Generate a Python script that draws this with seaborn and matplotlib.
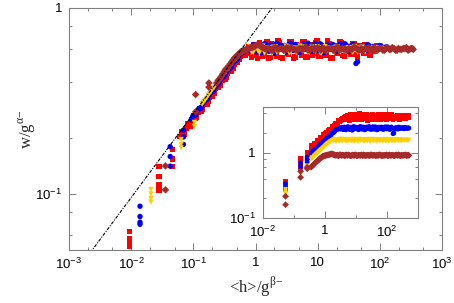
import numpy as np
import pandas as pd
import matplotlib
matplotlib.use("Agg")
import matplotlib.pyplot as plt
import seaborn as sns
from matplotlib.ticker import LogLocator, NullFormatter, FixedLocator

sns.set_style("ticks")
plt.rcParams['font.family'] = ['Liberation Sans', 'DejaVu Sans']
plt.rcParams['mathtext.fontset'] = 'custom'
plt.rcParams['mathtext.rm'] = 'Liberation Sans'

# ---------------- data (raw <h>, w; shown in the inset) ----------------
series_names = ['red', 'blue', 'yellow', 'brown']

# run 1
h_grid = [0.36, 0.40, 0.45, 0.50, 0.56, 0.63, 0.70, 0.78, 0.87, 0.97,
          1.08, 1.2, 1.35, 1.5, 1.7, 1.9, 2.1, 2.4, 2.7, 3.0,
          3.4, 3.8, 4.3, 4.8, 5.4, 6.0, 6.8, 7.6, 8.5, 9.5,
          10.6, 12, 13.5, 15, 17, 19, 21, 24, 27, 30,
          34, 38, 43, 48, 54, 60, 68, 76, 85, 95,
          107, 120, 135, 150, 170, 190, 215, 240, 270, 300,
          340, 380, 430, 480, 520]
w_red = [1.20, 1.22, 1.33, 1.36, 1.47, 1.50, 1.62, 1.64, 1.78, 1.80,
         1.96, 1.98, 2.18, 2.20, 2.40, 2.45, 2.62, 2.70, 2.95, 3.00,
         3.25, 3.30, 3.50, 3.38, 3.72, 3.30, 3.85, 3.25, 3.62, 3.18,
         3.80, 3.42, 3.95, 3.20, 3.66, 3.35, 3.88, 3.15, 3.72, 3.48,
         3.90, 3.22, 3.60, 3.30, 3.84, 3.26, 3.70, 3.40, 3.92, 3.18,
         3.64, 3.36, 3.86, 3.28, 3.58, 3.44, 3.78, 3.32, 3.68, 3.50,
         3.74, 3.38, 3.62, 3.46, 3.70]
w_blue = [0.98, 1.03, 1.09, 1.12, 1.20, 1.25, 1.33, 1.38, 1.46, 1.52,
          1.61, 1.66, 1.78, 1.84, 1.97, 2.03, 2.15, 2.25, 2.32, 2.36,
          2.42, 2.28, 2.48, 2.24, 2.50, 2.30, 2.46, 2.22, 2.52, 2.34,
          2.45, 2.26, 2.50, 2.32, 2.48, 2.25, 2.44, 2.36, 2.52, 2.28,
          2.46, 2.30, 2.50, 2.24, 2.42, 2.34, 2.48, 2.27, 2.44, 2.38,
          2.50, 2.30, 2.45, 2.36, 2.00, 2.40, 2.33, 2.47, 2.35, 2.42,
          2.38, 2.44, 2.36, 2.40, 2.38]
w_yellow = [0.79, 0.83, 0.88, 0.92, 0.97, 1.02, 1.07, 1.12, 1.18, 1.23,
            1.30, 1.36, 1.42, 1.48, 1.52, 1.55, 1.60, 1.50, 1.58, 1.49,
            1.62, 1.52, 1.59, 1.48, 1.61, 1.53, 1.57, 1.50, 1.60, 1.51,
            1.58, 1.49, 1.62, 1.54, 1.57, 1.50, 1.60, 1.52, 1.59, 1.49,
            1.61, 1.53, 1.58, 1.50, 1.60, 1.51, 1.57, 1.52, 1.59, 1.50,
            1.58, 1.53, 1.60, 1.51, 1.57, 1.54, 1.59, 1.52, 1.58, 1.53,
            1.57, 1.54, 1.56, 1.55, 1.56]
w_brown = [0.60, 0.63, 0.67, 0.71, 0.74, 0.78, 0.82, 0.85, 0.88, 0.90,
           0.91, 0.92, 0.93, 0.95, 0.96, 0.94, 0.92, 0.92, 0.90, 0.93,
           0.91, 0.92, 0.90, 0.93, 0.91, 0.92, 0.90, 0.92, 0.91, 0.93,
           0.90, 0.92, 0.91, 0.93, 0.90, 0.92, 0.91, 0.92, 0.90, 0.93,
           0.91, 0.92, 0.90, 0.92, 0.91, 0.93, 0.90, 0.92, 0.91, 0.92,
           0.90, 0.93, 0.91, 0.92, 0.90, 0.92, 0.91, 0.93, 0.90, 0.92,
           0.91, 0.92, 0.90, 0.92, 0.91]

# run 2
h_grid2 = [0.38, 0.425, 0.475, 0.53, 0.595, 0.665, 0.74, 0.825, 0.92, 1.02,
           1.14, 1.27, 1.42, 1.6, 1.8, 2.0, 2.25, 2.55, 2.85, 3.2,
           3.6, 4.05, 4.55, 5.1, 5.7, 6.4, 7.2, 8.0, 9.0, 10,
           11.3, 12.7, 14.2, 16, 18, 20, 22.5, 25.5, 28.5, 32,
           36, 40.5, 45.5, 51, 57, 64, 72, 80, 90, 101,
           113, 127, 142, 160, 180, 202, 227, 255, 285, 320,
           360, 405, 455, 500]
w2_red = [1.28, 1.24, 1.40, 1.37, 1.55, 1.52, 1.70, 1.68, 1.88, 1.85,
          2.06, 2.04, 2.28, 2.26, 2.52, 2.50, 2.78, 2.80, 3.08, 3.12,
          3.40, 3.28, 3.66, 3.22, 3.58, 3.16, 3.76, 3.30, 3.88, 3.20,
          3.70, 3.26, 3.82, 3.18, 3.62, 3.34, 3.90, 3.22, 3.68, 3.28,
          3.86, 3.20, 3.74, 3.36, 3.92, 3.24, 3.60, 3.30, 3.80, 3.18,
          3.70, 3.40, 3.84, 3.26, 3.64, 3.32, 3.78, 3.22, 3.66, 3.38,
          3.72, 3.30, 3.60, 3.44]
w2_blue = [1.02, 1.04, 1.12, 1.14, 1.24, 1.27, 1.37, 1.40, 1.51, 1.54,
           1.66, 1.70, 1.84, 1.88, 2.03, 2.07, 2.22, 2.27, 2.35, 2.30,
           2.47, 2.26, 2.44, 2.32, 2.50, 2.28, 2.46, 2.24, 2.49, 2.34,
           2.45, 2.27, 2.52, 2.30, 2.43, 2.25, 2.48, 2.33, 2.46, 2.28,
           2.51, 2.31, 2.44, 2.26, 2.47, 2.35, 2.42, 2.29, 2.50, 2.32,
           2.45, 2.27, 2.48, 1.96, 2.34, 2.43, 2.30, 2.46, 2.36, 2.41,
           2.33, 2.44, 2.37, 2.40]
w2_yellow = [0.81, 0.85, 0.90, 0.95, 1.00, 1.05, 1.10, 1.15, 1.21, 1.27,
             1.33, 1.39, 1.45, 1.50, 1.54, 1.56, 1.50, 1.59, 1.52, 1.61,
             1.49, 1.58, 1.53, 1.60, 1.50, 1.57, 1.52, 1.62, 1.49, 1.59,
             1.51, 1.58, 1.54, 1.60, 1.50, 1.57, 1.53, 1.61, 1.49, 1.59,
             1.52, 1.58, 1.50, 1.60, 1.53, 1.57, 1.51, 1.59, 1.52, 1.61,
             1.50, 1.58, 1.54, 1.57, 1.52, 1.59, 1.53, 1.58, 1.54, 1.57,
             1.55, 1.56, 1.54, 1.56]
w2_brown = [0.62, 0.65, 0.69, 0.72, 0.76, 0.80, 0.83, 0.86, 0.89, 0.90,
            0.92, 0.93, 0.94, 0.96, 0.95, 0.93, 0.91, 0.92, 0.90, 0.93,
            0.91, 0.92, 0.90, 0.92, 0.93, 0.91, 0.90, 0.92, 0.91, 0.93,
            0.90, 0.92, 0.91, 0.92, 0.93, 0.90, 0.91, 0.92, 0.90, 0.93,
            0.91, 0.92, 0.90, 0.91, 0.93, 0.92, 0.90, 0.91, 0.92, 0.93,
            0.90, 0.92, 0.91, 0.92, 0.90, 0.93, 0.91, 0.92, 0.90, 0.91,
            0.92, 0.93, 0.91, 0.92]

# early (discrete) times
h_early_red = [0.055, 0.055, 0.055, 0.055, 0.165, 0.165, 0.165, 0.165, 0.27, 0.27, 0.27]
w_early_red = [0.37, 0.34, 0.32, 0.31, 0.83, 0.73, 0.66, 0.62, 1.02, 0.91, 0.83]
h_early_blue = [0.054, 0.054, 0.054, 0.054, 0.165, 0.165, 0.165, 0.27, 0.27, 0.27]
w_early_blue = [0.335, 0.295, 0.275, 0.268, 0.70, 0.62, 0.55, 0.86, 0.79, 0.72]
h_early_yellow = [0.054, 0.054, 0.054, 0.054, 0.165, 0.165, 0.165, 0.27, 0.27]
w_early_yellow = [0.275, 0.26, 0.245, 0.235, 0.51, 0.48, 0.46, 0.63, 0.60]
h_early_brown = [0.054, 0.054, 0.165, 0.165, 0.27, 0.27]
w_early_brown = [0.215, 0.16, 0.52, 0.42, 0.60, 0.57]

# scaling factor g^alpha (= g^beta) per series
g_scale = {'red': 5.9, 'blue': 3.9, 'yellow': 2.6, 'brown': 1.52}

# guide power law
guide_slope = 0.45
guide_prefactor = 0.76
guide_x = [1e-3, 3.0]

main_xticks = [1e-3, 1e-2, 1e-1, 1, 10, 1e2, 1e3]
main_xlabels = [r'$\mathregular{10^{-3}}$', r'$\mathregular{10^{-2}}$', r'$\mathregular{10^{-1}}$',
                '1', '10', r'$\mathregular{10^{2}}$', r'$\mathregular{10^{3}}$']
main_yticks = [0.1, 1]
main_ylabels = [r'$\mathregular{10^{-1}}$', '1']
inset_xticks = [1e-2, 1, 1e2]
inset_xlabels = [r'$\mathregular{10^{-2}}$', '1', r'$\mathregular{10^{2}}$']
inset_yticks = [0.1, 1]
inset_ylabels = [r'$\mathregular{10^{-1}}$', '1']

colors = {'red': '#FF0000', 'blue': '#0000FF', 'yellow': '#FFD000', 'brown': '#A52A2A'}
markers = {'red': 's', 'blue': 'o', 'yellow': 'v', 'brown': 'D'}

# ---------------- build table ----------------
run1 = {'red': w_red, 'blue': w_blue, 'yellow': w_yellow, 'brown': w_brown}
run2 = {'red': w2_red, 'blue': w2_blue, 'yellow': w2_yellow, 'brown': w2_brown}
early = {'red': (h_early_red, w_early_red), 'blue': (h_early_blue, w_early_blue),
         'yellow': (h_early_yellow, w_early_yellow), 'brown': (h_early_brown, w_early_brown)}
frames = []
for s in series_names:
    he, we = early[s]
    frames.append(pd.DataFrame({'series': s,
                                'h': list(he) + h_grid + h_grid2,
                                'w': list(we) + run1[s] + run2[s]}))
df = pd.concat(frames, ignore_index=True)
df['x'] = df['h'] / df['series'].map(g_scale)
df['y'] = df['w'] / df['series'].map(g_scale)

# ---------------- figure ----------------
fig = plt.figure(figsize=(4.54, 3.03), dpi=100)
ax = fig.add_axes([0.152, 0.175, 0.822, 0.799])
axi = fig.add_axes([0.579, 0.2805, 0.341, 0.366])

sns.scatterplot(data=df, x='x', y='y', hue='series', style='series', palette=colors,
                markers=markers, s=15, linewidth=0, legend=False, ax=ax, zorder=2)
gx = np.array(guide_x)
gy = guide_prefactor * gx ** guide_slope
ax.plot(gx, gy, color='black', lw=0.8, linestyle=(0, (3, 1.2, 1, 1.2)), zorder=3)

sns.scatterplot(data=df, x='h', y='w', hue='series', style='series', palette=colors,
                markers=markers, s=12, linewidth=0, legend=False, ax=axi, zorder=2)

frame_col = '#808080'
for a in (ax, axi):
    a.set_xscale('log')
    a.set_yscale('log')
    for sp in a.spines.values():
        sp.set_color(frame_col)
        sp.set_linewidth(0.8)
        sp.set_visible(True)
    a.tick_params(which='both', direction='in', top=True, right=True, color=frame_col,
                  labelsize=9.5, labelcolor='black', width=0.7)
    a.tick_params(which='major', length=5, pad=5)
    a.tick_params(which='minor', length=2.5)
    a.set_xlabel('')
    a.set_ylabel('')

ax.set_xlim(1e-3, 1e3)
ax.set_ylim(0.05, 1)
ax.set_xticks(main_xticks, main_xlabels)
ax.set_yticks(main_yticks, main_ylabels)
ax.xaxis.set_minor_locator(LogLocator(base=10, subs=(2, 5), numticks=20))
ax.yaxis.set_minor_locator(LogLocator(base=10, subs=(2, 4, 6, 8), numticks=20))
ax.xaxis.set_minor_formatter(NullFormatter())
ax.yaxis.set_minor_formatter(NullFormatter())

axi.set_xlim(1e-2, 1e3)
axi.set_ylim(0.1, 5)
axi.set_xticks(inset_xticks, inset_xlabels)
axi.set_yticks(inset_yticks, inset_ylabels)
axi.xaxis.set_minor_locator(FixedLocator([0.1, 10]))
axi.yaxis.set_minor_locator(LogLocator(base=10, subs=(2, 4, 6, 8), numticks=20))
axi.xaxis.set_minor_formatter(NullFormatter())
axi.yaxis.set_minor_formatter(NullFormatter())
axi.patch.set_facecolor('white')

ax.set_xlabel(r'<h>/g$^{\mathregular{\beta}\mathregular{-}}$', fontfamily='Liberation Serif', fontsize=12, labelpad=2)
ax.set_ylabel(r'w/g$^{\mathregular{\alpha}\mathregular{-}}$', fontfamily='Liberation Serif', fontsize=12, labelpad=-2)

fig.savefig('out.png', dpi=100)
